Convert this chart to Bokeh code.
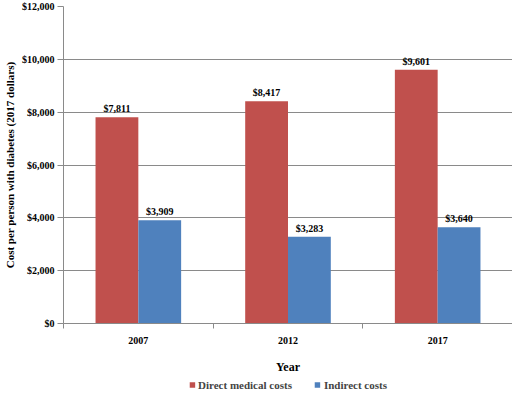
from bokeh.plotting import figure
from bokeh.layouts import column
from bokeh.models import (ColumnDataSource, Range1d, FixedTicker, NumeralTickFormatter,
                          LabelSet)
from bokeh.embed import file_html
from bokeh.resources import INLINE

# data
years = ["2007", "2012", "2017"]
direct = [7811, 8417, 9601]
indirect = [3909, 3283, 3640]
series_names = ["Direct medical costs", "Indirect costs"]

RED = "#C0504D"
BLUE = "#4F81BD"
GRID = "#8A8A8A"
FONT = "Liberation Serif"

n = len(years)
centers = [i + 0.5 for i in range(n)]
bw = 0.286

src = ColumnDataSource(data=dict(
    x_d=[c - bw / 2 for c in centers],
    x_i=[c + bw / 2 for c in centers],
    direct=direct,
    indirect=indirect,
    lab_d=["${:,}".format(v) for v in direct],
    lab_i=["${:,}".format(v) for v in indirect],
))

p = figure(width=512, height=376, output_backend="svg", toolbar_location=None,
           x_range=Range1d(0, n), y_range=Range1d(0, 12000))
p.min_border_top = 6
p.min_border_right = 0
p.min_border_left = 0
p.min_border_bottom = 0
p.outline_line_color = None

p.vbar(x="x_d", top="direct", width=bw, source=src, fill_color=RED, line_color=None)
p.vbar(x="x_i", top="indirect", width=bw, source=src, fill_color=BLUE, line_color=None)

# value labels above the bars
for xcol, ycol, tcol in [("x_d", "direct", "lab_d"), ("x_i", "indirect", "lab_i")]:
    p.add_layout(LabelSet(x=xcol, y=ycol, text=tcol, source=src, y_offset=3,
                          text_align="center", text_baseline="bottom",
                          text_font=FONT, text_font_style="bold",
                          text_font_size="10px", text_color="black"))

# x axis: year labels at centres, tick marks between categories
p.xaxis.ticker = FixedTicker(ticks=centers, minor_ticks=list(range(n + 1)))
p.xaxis.major_label_overrides = {c: y for c, y in zip(centers, years)}
p.xaxis.major_tick_line_color = None
p.xaxis.minor_tick_line_color = GRID
p.xaxis.minor_tick_out = 5
p.xaxis.minor_tick_in = 0
p.xaxis.axis_line_color = GRID
p.xaxis.major_label_standoff = 7
p.xaxis.axis_label = "Year"
p.xaxis.axis_label_standoff = 13
p.xgrid.grid_line_color = None

# y axis
p.yaxis.ticker = FixedTicker(ticks=list(range(0, 12001, 2000)))
p.yaxis.formatter = NumeralTickFormatter(format="$0,0")
p.yaxis.axis_line_color = GRID
p.yaxis.major_tick_line_color = GRID
p.yaxis.major_tick_out = 6
p.yaxis.major_tick_in = 0
p.yaxis.minor_tick_line_color = None
p.yaxis.major_label_standoff = 3
p.yaxis.axis_label = "Cost per person with diabetes (2017 dollars)"
p.yaxis.axis_label_standoff = 3
p.ygrid.grid_line_color = GRID
p.ygrid.grid_line_width = 1

for ax in (p.xaxis, p.yaxis):
    ax.major_label_text_font = FONT
    ax.major_label_text_font_style = "bold"
    ax.major_label_text_font_size = "10px"
    ax.major_label_text_color = "black"
    ax.axis_label_text_font = FONT
    ax.axis_label_text_font_style = "bold"
    ax.axis_label_text_color = "black"
p.xaxis.axis_label_text_font_size = "12px"
p.yaxis.axis_label_text_font_size = "11px"

# legend strip under the chart; zero-height bars only feed the swatches
leg_src = ColumnDataSource(data=dict(name=series_names, color=[RED, BLUE],
                                     x=[0.5] * len(series_names),
                                     top=[0] * len(series_names)))
leg = figure(width=512, height=17, output_backend="svg", toolbar_location=None,
             x_range=Range1d(0, 1), y_range=Range1d(0, 1))
leg.axis.visible = False
leg.grid.grid_line_color = None
leg.outline_line_color = None
leg.min_border = 0
leg.vbar(x="x", top="top", width=0.01, source=leg_src, fill_color="color",
         line_color=None, legend_field="name")

lg = leg.legend[0]
lg.orientation = "horizontal"
lg.location = "center"
lg.border_line_color = None
lg.background_fill_alpha = 0
lg.glyph_width = 7
lg.glyph_height = 7
lg.label_standoff = 3
lg.spacing = 22
lg.padding = 0
lg.margin = 0
lg.label_text_font = FONT
lg.label_text_font_style = "bold"
lg.label_text_font_size = "11px"
lg.label_height = 12

open("out.html", "w").write(file_html(column(p, leg), INLINE))
